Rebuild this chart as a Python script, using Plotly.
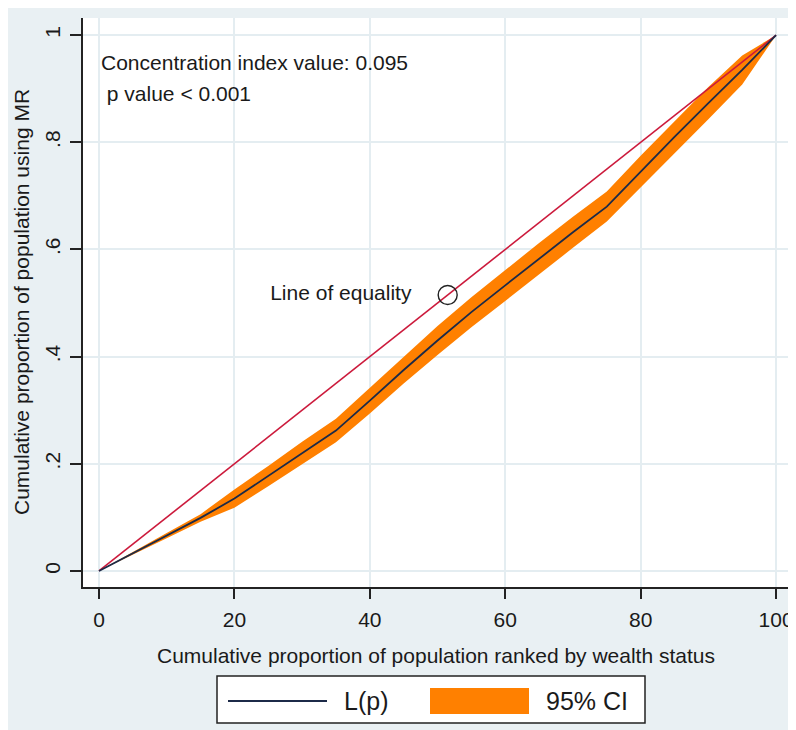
import plotly.graph_objects as go

# Data
pop_rank = [0, 5, 10, 15, 20, 25, 30, 35, 40, 45, 50, 55, 60, 65, 70, 75, 80, 85, 90, 95, 100]
lp = [0, 0.033, 0.066, 0.099, 0.135, 0.177, 0.22, 0.262, 0.318, 0.375, 0.43, 0.483, 0.533,
      0.583, 0.632, 0.68, 0.745, 0.81, 0.873, 0.935, 1.0]
ci_upper = [0, 0.036, 0.071, 0.106, 0.152, 0.196, 0.241, 0.284, 0.342, 0.400, 0.457, 0.511, 0.562,
            0.612, 0.661, 0.708, 0.775, 0.84, 0.903, 0.962, 1.0]
ci_lower = [0, 0.030, 0.061, 0.092, 0.118, 0.158, 0.199, 0.240, 0.294, 0.350, 0.403, 0.455, 0.504,
            0.554, 0.603, 0.652, 0.715, 0.78, 0.843, 0.908, 1.0]
equality_x = [0, 100]
equality_y = [0, 1]
marker_pt = (51.5, 0.515)
x_ticks = [0, 20, 40, 60, 80, 100]
x_ticklabels = ["0", "20", "40", "60", "80", "100"]
y_ticks = [0, 0.2, 0.4, 0.6, 0.8, 1]
y_ticklabels = ["0", ".2", ".4", ".6", ".8", "1"]
ci_value = 0.095
legend_labels = ["L(p)", "95% CI"]

FONT = "Liberation Sans, Arial, sans-serif"
TXT = "#1a1a1a"
ORANGE = "#ff8000"
NAVY = "#1c2a48"
RED = "#cc1a3c"

# page has an 8px body margin: figure coords = page coords - 8
OFF = 8
W, H = 796 - OFF, 730 - OFF
L, R, T, B = 83 - OFF, 3, 18 - OFF, 730 - 587
PW, PH = W - L - R, H - T - B


def px(xp):
    return (xp - OFF - L) / PW


def py(yp):
    return (H - B - (yp - OFF)) / PH


fig = go.Figure()
fig.add_trace(go.Scatter(x=pop_rank, y=ci_lower, mode="lines", line=dict(width=0, color=ORANGE),
                         showlegend=False, hoverinfo="skip"))
fig.add_trace(go.Scatter(x=pop_rank, y=ci_upper, mode="lines", line=dict(width=0, color=ORANGE),
                         fill="tonexty", fillcolor=ORANGE, name=legend_labels[1], showlegend=False))
fig.add_trace(go.Scatter(x=equality_x, y=equality_y, mode="lines", line=dict(color=RED, width=1.6),
                         showlegend=False))
fig.add_trace(go.Scatter(x=pop_rank, y=lp, mode="lines", line=dict(color=NAVY, width=1.8),
                         name=legend_labels[0], showlegend=False))
fig.add_trace(go.Scatter(x=[marker_pt[0]], y=[marker_pt[1]], mode="markers+text",
                         marker=dict(symbol="circle-open", size=19, color="#222222", line=dict(width=1.4)),
                         text=["Line of equality    "], textposition="middle left",
                         textfont=dict(family=FONT, size=21, color=TXT), showlegend=False))

fig.add_annotation(xref="paper", yref="paper", x=px(99), y=py(62), xanchor="left", yanchor="middle",
                   text=f"Concentration index value: {ci_value}", showarrow=False,
                   font=dict(family=FONT, size=21, color=TXT))
fig.add_annotation(xref="paper", yref="paper", x=px(99), y=py(93), xanchor="left", yanchor="middle",
                   text=" p value < 0.001", showarrow=False,
                   font=dict(family=FONT, size=21, color=TXT))

# axis titles
fig.add_annotation(xref="paper", yref="paper", x=px(436), y=py(655), xanchor="center", yanchor="middle",
                   text="Cumulative proportion of population ranked by wealth status", showarrow=False,
                   font=dict(family=FONT, size=21, color=TXT))
fig.add_annotation(xref="paper", yref="paper", x=px(21), y=py(302), xanchor="center", yanchor="middle",
                   text="Cumulative proportion of population using MR", showarrow=False, textangle=-90,
                   font=dict(family=FONT, size=21, color=TXT))

# manual legend
fig.add_shape(type="rect", xref="paper", yref="paper", x0=px(217), x1=px(645), y0=py(723), y1=py(676),
              fillcolor="white", line=dict(color="#222222", width=1.5))
fig.add_shape(type="line", xref="paper", yref="paper", x0=px(228), x1=px(327), y0=py(701), y1=py(701),
              line=dict(color=NAVY, width=1.8))
fig.add_shape(type="rect", xref="paper", yref="paper", x0=px(430), x1=px(529), y0=py(714), y1=py(688),
              fillcolor=ORANGE, line=dict(width=0))
fig.add_annotation(xref="paper", yref="paper", x=px(342), y=py(701), xanchor="left", yanchor="middle",
                   text=legend_labels[0], showarrow=False, font=dict(family=FONT, size=25, color=TXT))
fig.add_annotation(xref="paper", yref="paper", x=px(544), y=py(701), xanchor="left", yanchor="middle",
                   text=legend_labels[1], showarrow=False, font=dict(family=FONT, size=25, color=TXT))

grid = "#e4edf1"
fig.update_layout(
    width=W, height=H,
    margin=dict(l=L, r=R, t=T, b=B),
    paper_bgcolor="#e9f0f3", plot_bgcolor="white",
    font=dict(family=FONT, size=20, color=TXT),
    showlegend=False,
)
fig.update_xaxes(range=[-2.36, 102.5], tickvals=x_ticks, ticktext=x_ticklabels,
                 showgrid=True, gridcolor=grid, gridwidth=1.5, zeroline=False, automargin=False,
                 showline=True, linecolor="#222222", linewidth=2, ticks="outside", ticklen=10,
                 tickcolor="#222222", tickwidth=1.5, ticklabelstandoff=3,
                 tickfont=dict(family=FONT, size=21, color=TXT))
fig.update_yaxes(range=[-0.030, 1.032], tickvals=y_ticks, ticktext=y_ticklabels, tickangle=-90,
                 showgrid=True, gridcolor=grid, gridwidth=1.5, zeroline=False, automargin=False,
                 showline=True, linecolor="#222222", linewidth=2, ticks="outside", ticklen=11,
                 tickcolor="#222222", tickwidth=1.5, ticklabelstandoff=2,
                 tickfont=dict(family=FONT, size=21, color=TXT))

fig.write_html("out.html")
